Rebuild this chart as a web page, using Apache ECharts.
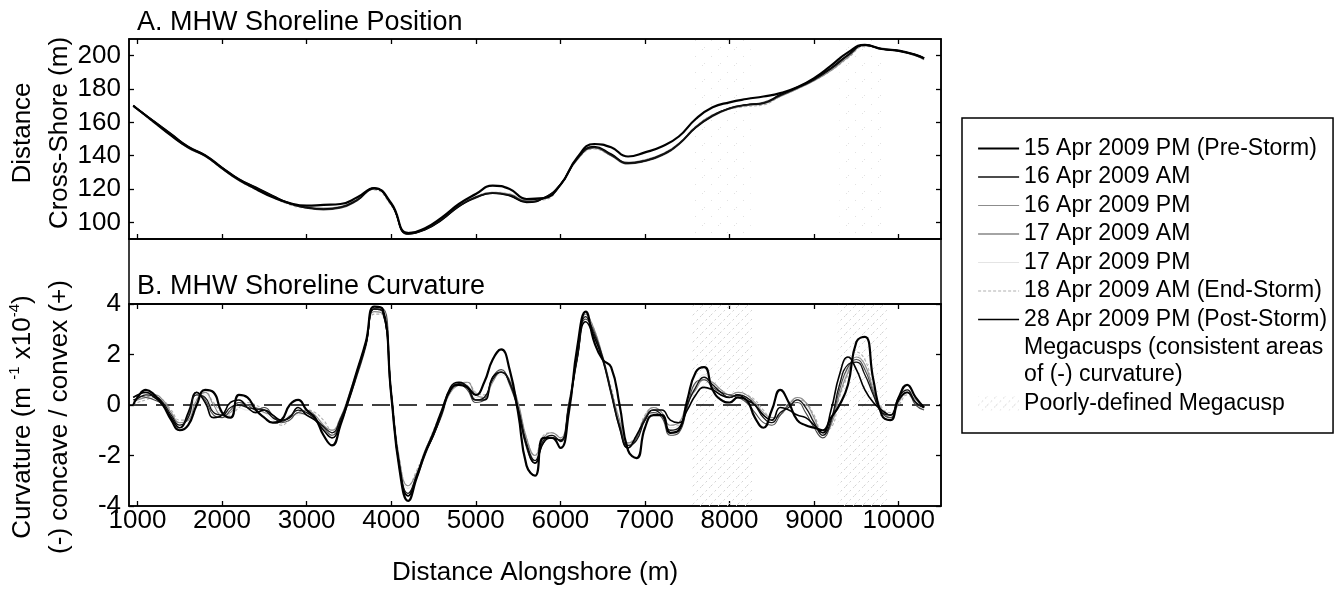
<!DOCTYPE html>
<html><head><meta charset="utf-8">
<script src="https://cdn.jsdelivr.net/npm/echarts@6/dist/echarts.min.js"></script>
<style>html,body{margin:0;padding:0;background:#fff}#c{width:1338px;height:594px}</style>
</head><body><div id="c"></div>
<script>
// ---------------- DATA ----------------
const NAMES = ['15 Apr 2009 PM (Pre-Storm)','16 Apr 2009 AM','16 Apr 2009 PM','17 Apr 2009 AM','17 Apr 2009 PM','18 Apr 2009 AM (End-Storm)','28 Apr 2009 PM (Post-Storm)'];
const MEGA_NAME = 'Megacusps (consistent areas\nof (-) curvature)';
const POOR_NAME = 'Poorly-defined Megacusp';

const X_TICKS = [1000,2000,3000,4000,5000,6000,7000,8000,9000,10000];
const YA_TICKS = [100,120,140,160,180,200];

// alongshore positions of panel A samples (m)
const X_A = [950,1000,1200,1400,1600,1800,2000,2200,2400,2600,2800,3000,3200,3400,3600,3800,4000,4200,4400,4600,4800,5000,5200,5400,5600,5800,6000,6200,6400,6600,6800,7000,7200,7400,7600,7800,8000,8200,8400,8600,8800,9000,9200,9400,9600,9800,10000,10200,10300];

// cross-shore MHW position (m)
const POS_15PM = [170,168,160,152,145,140,132.5,125.5,120,115,
 111.5,110,110.5,111,115,120.5,111.5,93.5,96.5,103,
 111,117,122,120,114,114.5,122.5,139,147,145,
 139.5,142,145.5,151.5,162,169,172,174,175.5,177.5,
 181,186.5,194,202,206.5,204,203,200.5,198.5];
const POS_16AM = [170,168,160.3,152.5,145,140,132.5,125.7,120.5,115.6,
 111,108.7,107.8,109,113.5,120.3,111,93.3,95.8,102,
 109.8,115,117.5,116.5,112.5,114.5,122.5,138,145,140.5,
 135.5,137,140.5,147,157,164,168.5,170.5,171.5,176,
 180.5,185.5,192,200,206.3,204,203,200.5,198.5];
const POS_16PM = [169.5,167.5,160,152,144.5,139.5,132,125,120,115,
 111,109,108.5,109.5,114,120,110.5,94,96,102.5,
 110,115.5,118,117,113,114,122,137.5,144.5,140,
 136,137.5,141,147.5,157.5,164.5,168,170,171,175.5,
 180,185,191,199,206,204.5,203,200,197.5];
const POS_17AM = [170,168,160.5,153,145.5,140,133,126,121,116,
 111.5,108.5,107.5,108.5,113,120.5,111.5,93,95.5,101.5,
 109.5,114.5,117.5,116,112,114.5,123,138.5,145,140,
 135,136.5,140,146.5,156.5,163.5,168,170.5,172,176.5,
 181,186,192.5,200.5,206.5,204,202.5,200,198];
const POS_17PM = [170,167.5,160,152.5,145,139.5,132.5,125.5,120.5,115.5,
 111,109,108,109,113.5,120,110.5,93.5,96,102,
 110,115,117.5,116.5,112.5,114,122.5,138,144.5,140.5,
 135.5,137,140.5,147,157,164,168.5,170.5,171.5,176,
 180.5,185.5,191.5,199.5,206,204,203,200.5,198];
const POS_18AM = [169.5,167.5,159.5,152,144.5,139.5,132,125,119.5,115,
 110.5,108.5,108,109.5,114,119.5,110,94,96.5,102.5,
 110.5,115.5,118,117,113,113.5,122,137.5,144,140,
 136,137.5,141,147.5,157.5,164.5,168,169.5,170.5,175.5,
 180,185,191,198.5,205.5,204,202.5,200,197.5];
const POS_28PM = [170,168,160.5,153,145.5,140.5,133,126,121,116,
 111.5,109,108,109,113.5,120.5,111,93,95.5,101.5,
 109.5,115,117.5,116,112,114.5,122.5,138.5,145.5,141,
 135.5,137,140.5,147,157,164,168.5,170.5,171.5,176.5,
 181,186,192.5,200.5,206.5,204,203,200.5,198.5];

// alongshore positions of panel B samples (m)
const X_B = [950,1000,1100,1200,1300,1400,1500,1600,1700,1800,1900,2000,2100,2200,2300,2400,2500,2600,2700,2800,2900,3000,3100,3200,3300,3400,3500,3600,3700,3800,3900,4000,4100,4200,4300,4400,4500,4600,4700,4800,4900,5000,5100,5200,5300,5400,5500,5600,5700,5800,5900,6000,6100,6200,6300,6400,6500,6600,6700,6800,6900,7000,7100,7200,7300,7400,7500,7600,7700,7800,7900,8000,8100,8200,8300,8400,8500,8600,8700,8800,8900,9000,9100,9200,9300,9400,9500,9600,9700,9800,9900,10000,10100,10200,10300];

// curvature (m^-1 x10^-4)
const CURV_15PM = [0.0,0.3,0.6,0.4,0.0,-0.6,-1.0,-0.8,0.0,0.6,
 0.5,-0.3,-0.5,0.4,0.3,-0.2,-0.5,-0.7,-0.6,0.0,
 0.2,-0.2,-0.5,-1.2,-1.6,-0.8,0.3,1.4,2.5,3.9,
 3.8,0.4,-2.6,-3.8,-2.9,-1.9,-1.1,-0.2,0.6,0.8,
 0.7,0.4,0.9,1.8,2.2,1.4,-0.3,-2.4,-2.8,-1.3,
 -1.3,-1.7,-0.3,2.3,3.7,2.5,1.8,1.5,0.0,-1.8,
 -2.1,-0.9,-0.4,-0.4,-1.1,-1.0,0.2,1.3,1.5,0.6,
 0.2,0.1,0.3,0.2,-0.5,-0.9,-0.2,0.6,0.1,-0.6,
 -0.8,-0.9,-1.0,-0.5,0.0,0.8,2.5,2.7,1.0,-0.4,
 -0.6,0.3,0.8,0.3,-0.1];
const CURV_16AM = [0.2,0.25,0.4,0.35,0.1,-0.4,-0.8,-0.5,0.4,0.3,
 -0.3,-0.4,-0.1,0.0,-0.1,-0.15,-0.2,-0.5,-0.65,-0.45,
 -0.2,-0.3,-0.55,-0.85,-1.1,-0.55,0.3,1.3,2.4,3.8,
 3.7,0.5,-2.4,-3.5,-2.8,-1.9,-1.2,-0.3,0.6,0.85,
 0.75,0.2,0.3,1.0,1.3,0.9,-0.1,-1.5,-2.2,-1.4,
 -1.2,-1.45,0.0,1.9,3.5,2.8,1.9,0.5,-0.8,-1.6,
 -1.4,-0.6,-0.2,-0.4,-1.0,-0.9,0.0,0.7,1.1,0.8,
 0.5,0.3,0.4,0.3,0.0,-0.5,-0.7,-0.3,-0.1,0.2,
 -0.1,-0.7,-1.2,-0.6,0.8,1.6,1.7,1.2,0.4,-0.3,
 -0.4,0.3,0.6,0.1,-0.1];
const CURV_16PM = [0.1,0.2,0.3,0.4,0.2,-0.3,-0.7,-0.6,0.2,0.5,
 0.0,-0.4,-0.3,0.1,0.0,-0.1,-0.3,-0.4,-0.6,-0.5,
 -0.3,-0.2,-0.4,-0.8,-1.0,-0.5,0.4,1.4,2.5,3.7,
 3.6,0.6,-2.2,-3.2,-2.7,-1.8,-1.1,-0.3,0.5,0.8,
 0.9,0.4,0.3,0.9,1.3,1.0,0.1,-1.3,-2.0,-1.3,
 -1.1,-1.3,0.1,2.0,3.6,3.0,1.9,0.6,-0.6,-1.5,
 -1.3,-0.5,-0.1,-0.3,-0.8,-0.7,0.1,0.6,1.0,0.9,
 0.6,0.4,0.5,0.4,0.1,-0.3,-0.5,-0.4,0.0,0.3,
 0.1,-0.5,-1.1,-0.8,0.4,1.3,1.9,1.6,0.6,-0.2,
 -0.5,0.1,0.5,0.2,-0.1];
const CURV_17AM = [0.3,0.35,0.3,0.2,0.0,-0.5,-0.9,-0.4,0.5,0.2,
 -0.4,-0.5,-0.2,0.1,0.0,-0.2,-0.1,-0.4,-0.7,-0.6,
 -0.3,-0.4,-0.6,-0.9,-1.2,-0.6,0.2,1.2,2.3,3.8,
 3.8,0.5,-2.5,-3.6,-2.9,-2.0,-1.2,-0.4,0.6,0.8,
 0.6,0.1,0.2,1.1,1.4,0.8,-0.2,-1.7,-2.3,-1.5,
 -1.3,-1.4,-0.1,1.8,3.4,2.9,1.8,0.4,-0.9,-1.7,
 -1.3,-0.5,-0.3,-0.5,-1.2,-1.1,-0.1,0.9,1.0,0.7,
 0.5,0.4,0.3,0.1,-0.3,-0.7,-0.8,-0.4,0.0,0.1,
 -0.3,-0.9,-1.3,-0.7,0.6,1.5,1.8,1.4,0.5,-0.3,
 -0.5,0.2,0.5,0.0,-0.2];
const CURV_17PM = [0.2,0.3,0.35,0.3,0.1,-0.3,-0.7,-0.5,0.3,0.4,
 -0.2,-0.3,0.0,-0.1,-0.2,-0.1,-0.3,-0.6,-0.7,-0.4,
 -0.4,-0.3,-0.5,-0.7,-1.0,-0.5,0.3,1.3,2.4,3.7,
 3.6,0.6,-2.3,-3.3,-2.8,-1.8,-1.1,-0.2,0.6,0.9,
 0.8,0.3,0.3,1.0,1.2,0.8,0.0,-1.4,-2.1,-1.3,
 -1.2,-1.3,0.0,2.0,3.5,2.9,2.0,0.6,-0.7,-1.6,
 -1.3,-0.4,-0.1,-0.3,-0.9,-0.8,0.1,0.8,1.2,0.9,
 0.5,0.3,0.4,0.3,0.0,-0.4,-0.6,-0.3,0.1,0.3,
 0.0,-0.6,-1.1,-0.7,0.5,1.4,2.0,1.5,0.5,-0.2,
 -0.4,0.2,0.6,0.1,-0.1];
const CURV_18AM = [0.0,0.1,0.2,0.3,0.2,-0.2,-0.6,-0.6,0.2,0.5,
 0.1,-0.3,-0.4,-0.1,0.1,0.0,-0.2,-0.5,-0.8,-0.6,
 -0.3,-0.2,-0.3,-0.6,-1.0,-0.5,0.3,1.2,2.4,3.6,
 3.6,0.7,-2.2,-3.2,-2.6,-1.8,-1.0,-0.2,0.5,0.9,
 0.9,0.5,0.4,1.0,1.3,1.0,0.0,-1.3,-2.0,-1.2,
 -1.1,-1.3,0.1,2.1,3.6,3.0,1.9,0.7,-0.6,-1.5,
 -1.2,-0.4,-0.1,-0.3,-0.8,-0.8,0.0,0.7,1.1,0.8,
 0.6,0.4,0.5,0.4,0.2,-0.2,-0.5,-0.4,0.0,0.2,
 0.1,-0.4,-1.0,-0.9,0.3,1.2,2.1,1.8,0.7,-0.1,
 -0.3,0.0,0.4,0.1,-0.1];
const CURV_28PM = [0.3,0.4,0.5,0.3,0.0,-0.5,-0.9,-0.3,0.5,0.1,
 -0.5,-0.4,0.1,0.2,-0.1,-0.3,-0.2,-0.4,-0.6,-0.5,
 -0.1,-0.4,-0.6,-1.0,-1.3,-0.7,0.2,1.3,2.4,3.8,
 3.7,0.4,-2.5,-3.6,-2.8,-1.9,-1.2,-0.3,0.7,0.9,
 0.7,0.2,0.2,1.1,1.3,0.9,-0.2,-1.6,-2.3,-1.5,
 -1.3,-1.4,-0.1,1.9,3.3,2.7,1.8,0.5,-0.9,-1.7,
 -1.2,-0.6,-0.2,-0.2,-0.6,-0.7,-0.2,0.4,0.7,0.6,
 0.4,0.3,0.4,0.2,0.0,-0.4,-0.6,-0.1,-0.2,-0.4,
 -0.5,-0.8,-1.1,-0.2,1.2,1.9,1.4,0.6,0.1,-0.2,
 -0.4,0.2,0.5,0.1,-0.1];

// poorly-defined megacusp extents (alongshore, m)
const POOR_A = [[7560,8250],[9300,9820]];
const POOR_B = [[7560,8280],[9280,9860]];

// ---------------- STYLE ----------------
const POS = [POS_15PM,POS_16AM,POS_16PM,POS_17AM,POS_17PM,POS_18AM,POS_28PM];
const CURV = [CURV_15PM,CURV_16AM,CURV_16PM,CURV_17AM,CURV_17PM,CURV_18AM,CURV_28PM];
const STY = [
  {color:'#000000', width:2.2, type:'solid', z:9},
  {color:'#111111', width:1.3, type:'solid', z:8},
  {color:'#8c8c8c', width:1.1, type:'solid', z:5},
  {color:'#4a4a4a', width:1.1, type:'solid', z:6},
  {color:'#e4e4e4', width:1.0, type:'solid', z:3},
  {color:'#b0b0b0', width:1.1, type:[3,2], z:4},
  {color:'#000000', width:1.6, type:'solid', z:7}
];
const FONT = '"Liberation Sans", Arial, Helvetica, sans-serif';

function hatch(step, dash, col) {
  const c = document.createElement('canvas');
  c.width = step; c.height = step;
  const g = c.getContext('2d');
  g.strokeStyle = col; g.lineWidth = 1;
  g.setLineDash(dash);
  g.beginPath(); g.moveTo(0, step); g.lineTo(step, 0); g.stroke();
  return {image: c, repeat: 'repeat'};
}
const HATCH_B = hatch(9, [2, 3], '#d2d2d2');
const HATCH_A = hatch(16, [1, 9], '#d6d6d6');

function xAx(grid, pos, labels, name) {
  return {
    type:'value', gridIndex:grid, position:pos, min:900, max:10500,
    axisLine:{show:true, onZero:false, lineStyle:{color:'#000', width:1.5}},
    axisTick:{show:true, inside:true, length:5, customValues:X_TICKS, lineStyle:{color:'#000', width:1.3}},
    axisLabel:{show:labels, customValues:X_TICKS, fontSize:26, color:'#000', fontFamily:FONT, margin:2,
               formatter:(v) => String(v)},
    splitLine:{show:false},
    name: name || '', nameLocation:'middle', nameGap:54,
    nameTextStyle:{fontSize:26, color:'#000', fontFamily:FONT}
  };
}
function yAx(grid, pos, labels, min, max, ticks, interval) {
  const a = {
    type:'value', gridIndex:grid, position:pos, min:min, max:max,
    axisLine:{show:true, onZero:false, lineStyle:{color:'#000', width:1.5}},
    axisTick:{show:true, inside:true, length:5, lineStyle:{color:'#000', width:1.3}},
    axisLabel:{show:labels, fontSize:26, color:'#000', fontFamily:FONT, margin:8, formatter:(v) => String(v)},
    splitLine:{show:false}
  };
  if (ticks) { a.axisTick.customValues = ticks; a.axisLabel.customValues = ticks; }
  if (interval) a.interval = interval;
  return a;
}

const series = [];
for (let i = 0; i < 7; i++) {
  const s = STY[i];
  series.push({
    type:'line', name:NAMES[i], xAxisIndex:0, yAxisIndex:0, symbol:'none', smooth:true, z:s.z,
    lineStyle:{color:s.color, width:s.width, type:s.type}, itemStyle:{color:s.color},
    data: X_A.map((x, k) => [x, POS[i][k]])
  });
  series.push({
    type:'line', name:NAMES[i], xAxisIndex:2, yAxisIndex:2, symbol:'none', smooth:true, z:s.z,
    lineStyle:{color:s.color, width:s.width, type:s.type}, itemStyle:{color:s.color},
    data: X_B.map((x, k) => [x, CURV[i][k]]),
    markLine: i === 1 ? {
      silent:true, symbol:'none', label:{show:false}, z:2,
      lineStyle:{color:'#000', width:1.5, type:[18,9]},
      data:[{yAxis:0}]
    } : undefined
  });
}
series.push({type:'line', name:MEGA_NAME, xAxisIndex:0, yAxisIndex:0, symbol:'none', data:[],
  lineStyle:{color:'rgba(0,0,0,0)'}, itemStyle:{color:'rgba(0,0,0,0)'}});
series.push({type:'line', name:POOR_NAME, xAxisIndex:2, yAxisIndex:2, symbol:'none', data:[], z:1,
  lineStyle:{color:'#c2c2c2'}, itemStyle:{color:HATCH_B},
  markArea:{silent:true, itemStyle:{color:HATCH_B, opacity:1}, data: POOR_B.map(r => [{xAxis:r[0]},{xAxis:r[1]}])}});
series.push({type:'line', name:POOR_NAME, xAxisIndex:0, yAxisIndex:0, symbol:'none', data:[], z:1,
  lineStyle:{color:'#c2c2c2'}, itemStyle:{color:HATCH_A},
  markArea:{silent:true, itemStyle:{color:HATCH_A, opacity:1}, data: POOR_A.map(r => [{xAxis:r[0]},{xAxis:r[1]}])}});

const legendData = NAMES.map((n, i) => ({
  name:n, itemStyle:{opacity:0},
  lineStyle:{color:STY[i].color, width:STY[i].width, type:STY[i].type, opacity:1}
}));
legendData.push({name:MEGA_NAME, itemStyle:{opacity:0}, lineStyle:{opacity:0}});
legendData.push({name:POOR_NAME, icon:'rect', itemStyle:{color:HATCH_B, opacity:1, borderWidth:0}, lineStyle:{opacity:0}});

const option = {
  animation:false,
  backgroundColor:'#fff',
  textStyle:{fontFamily:FONT},
  title:[
    {text:'A. MHW Shoreline Position', left:137, top:9, padding:0,
     textStyle:{fontSize:27, fontWeight:'normal', color:'#000', fontFamily:FONT}},
    {text:'B. MHW Shoreline Curvature', left:137, top:273, padding:0,
     textStyle:{fontSize:27, fontWeight:'normal', color:'#000', fontFamily:FONT}}
  ],
  grid:[
    {left:129, top:39, width:812, height:200, show:true, borderColor:'#000', borderWidth:1.5, containLabel:false},
    {left:129, top:304, width:812, height:202, show:true, borderColor:'#000', borderWidth:1.5, containLabel:false}
  ],
  xAxis:[
    xAx(0, 'bottom', false), xAx(0, 'top', false),
    xAx(1, 'bottom', true, 'Distance Alongshore (m)'), xAx(1, 'top', false)
  ],
  yAxis:[
    yAx(0, 'left', true, 90, 210, YA_TICKS), yAx(0, 'right', false, 90, 210, YA_TICKS),
    yAx(1, 'left', true, -4, 4, null, 2), yAx(1, 'right', false, -4, 4, null, 2)
  ],
  legend:{
    orient:'vertical', left:962, top:118, padding:[17, 6, 16, 15],
    borderColor:'#000', borderWidth:1.5, itemWidth:41, itemHeight:14, itemGap:1.5,
    textStyle:{fontSize:23, lineHeight:27, color:'#000', fontFamily:FONT},
    selectedMode:false, data:legendData
  },
  graphic:[
    {type:'rect', shape:{x:129, y:239, width:812, height:65}, silent:true, z:10,
     style:{fill:'none', stroke:'#000', lineWidth:1.5}},
    {type:'text', x:41, y:133, rotation:Math.PI/2, silent:true,
     style:{text:'Distance\nCross-Shore (m)', fontSize:26, fontFamily:FONT, fill:'#000',
            align:'center', verticalAlign:'middle', lineHeight:37}},
    {type:'text', x:41, y:417, rotation:Math.PI/2, silent:true,
     style:{text:'Curvature (m {sup|-1} x10{sup|-4})\n(-) concave / convex (+)', fontSize:26, fontFamily:FONT, fill:'#000',
            align:'center', verticalAlign:'middle', lineHeight:37,
            rich:{sup:{fontSize:15, fontFamily:FONT, fill:'#000', verticalAlign:'top', padding:[3,0,0,0]}}}}
  ],
  series: series
};
const chart = echarts.init(document.getElementById('c'), null, {renderer:'canvas'});
chart.setOption(option);
</script>
</body></html>
